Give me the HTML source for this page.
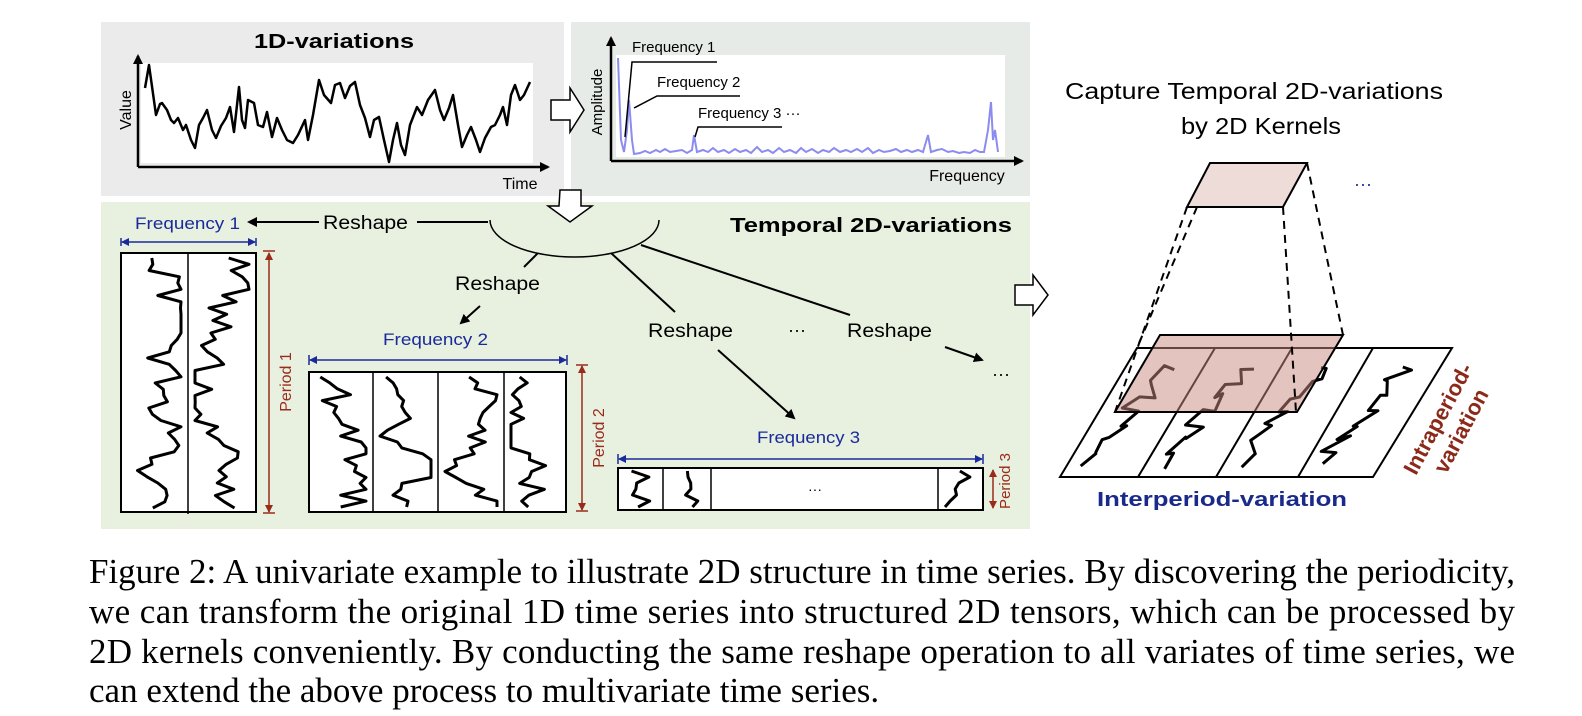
<!DOCTYPE html>
<html><head><meta charset="utf-8"><style>
html,body{margin:0;padding:0;background:#fff;}
svg{display:block}
.s{font-family:"Liberation Sans",sans-serif}
</style></head><body>
<svg id="sv" width="1582" height="716" viewBox="0 0 1582 716" xmlns="http://www.w3.org/2000/svg">
<defs>
<marker id="ah" markerWidth="10" markerHeight="10" refX="8" refY="5" orient="auto" markerUnits="userSpaceOnUse"><path d="M0,0 L10,5 L0,10 z" fill="#000"/></marker>
<marker id="ahb" markerWidth="8" markerHeight="8" refX="7" refY="4" orient="auto-start-reverse" markerUnits="userSpaceOnUse"><path d="M0,0 L8,4 L0,8 z" fill="#1a2a9a"/></marker>
<marker id="ahr" markerWidth="8" markerHeight="8" refX="7" refY="4" orient="auto-start-reverse" markerUnits="userSpaceOnUse"><path d="M0,0 L8,4 L0,8 z" fill="#9a2a1a"/></marker>
</defs>
<rect x="101" y="22" width="463" height="174" fill="#ebebeb"/>
<rect x="571" y="22" width="459" height="174" fill="#e7ebe7"/>
<rect x="101" y="202" width="929" height="327" fill="#e8f0df"/>

<rect x="141" y="63" width="392" height="100" fill="#fff"/>
<line x1="138" y1="167" x2="138" y2="56" stroke="#000" stroke-width="2.5" marker-end="url(#ah)"/>
<line x1="138" y1="167" x2="548" y2="167" stroke="#000" stroke-width="2.5" marker-end="url(#ah)"/>
<text x="254" y="48" class="s" font-size="20" font-weight="bold" textLength="160" lengthAdjust="spacingAndGlyphs">1D-variations</text>
<text transform="translate(131,110) rotate(-90)" text-anchor="middle" class="s" font-size="16">Value</text>
<text x="520" y="189" text-anchor="middle" class="s" font-size="16">Time</text>
<polyline fill="none" stroke="#000" stroke-width="2.5" stroke-linejoin="round" points="145,88 149,65 156,115 160,104 162,103 167,110 171,120 174,123 178,118 183,130 186,125 191,140 195,148 199,125 203,118 207,110 212,130 216,138 221,126 226,118 230,107 234,132 239,87 242,120 245,128 248,100 254,103 258,125 263,127 267,112 272,137 277,118 282,130 287,140 293,143 298,135 305,120 308,140 313,115 319,80 324,95 331,103 335,85 340,83 345,98 350,86 355,82 360,105 365,118 370,137 374,120 379,117 384,140 389,162 393,140 397,123 401,145 405,155 410,125 417,107 422,115 428,100 435,90 440,110 444,120 449,108 453,95 458,125 462,147 467,135 471,127 476,140 480,152 485,138 491,127 495,125 500,115 503,107 507,125 511,95 515,85 520,100 524,95 530,82"/>

<path d="M551,100 L570,100 L570,88 L584,110 L570,132 L570,120 L551,120 Z" fill="#fff" stroke="#000" stroke-width="1.5"/>

<rect x="616" y="55" width="389" height="102" fill="#fff"/>
<line x1="611" y1="161" x2="611" y2="38" stroke="#000" stroke-width="2.5" marker-end="url(#ah)"/>
<line x1="611" y1="161" x2="1022" y2="161" stroke="#000" stroke-width="2.5" marker-end="url(#ah)"/>
<text transform="translate(602,102) rotate(-90)" text-anchor="middle" class="s" font-size="15">Amplitude</text>
<text x="967" y="181" text-anchor="middle" class="s" font-size="16">Frequency</text>
<polyline fill="none" stroke="#8c8cf0" stroke-width="2" points="618,58 621,140 624,152 627,130 629,100 632,140 634,154 640,153 645,151 650,153 656,150 660,152 665,149 670,152 676,151 682,150 687,153 692,150 694,135 697,152 703,150 708,152 713,148 718,152 724,150 729,153 735,149 740,152 746,150 751,153 757,147 762,152 768,150 773,153 779,148 784,152 790,150 796,153 801,148 806,152 812,149 818,153 823,150 829,152 834,148 840,152 846,150 851,152 857,149 862,152 868,148 873,153 879,150 884,152 890,151 896,149 901,152 907,150 912,152 918,150 923,152 928,135 931,152 937,150 942,149 948,152 953,151 959,153 964,152 970,153 975,150 980,152 984,152 988,130 991,102 993,140 995,130 998,152"/>
<text x="632" y="52" class="s" font-size="15">Frequency 1</text>
<text x="657" y="87" class="s" font-size="15">Frequency 2</text>
<text x="698" y="118" class="s" font-size="15">Frequency 3 ···</text>
<polyline fill="none" stroke="#000" stroke-width="1.5" points="717,62 632,62 625,137"/>
<polyline fill="none" stroke="#000" stroke-width="1.5" points="740,96 657,96 634,108"/>
<polyline fill="none" stroke="#000" stroke-width="1.5" points="782,127 698,127 695,137"/>

<path d="M560,190 L581,190 L581,206 L592,206 L570,222 L548,206 L559,206 Z" fill="#fff" stroke="#000" stroke-width="1.5"/>
<path d="M490,220 A84.5 37 0 0 0 659 220" fill="none" stroke="#000" stroke-width="1.5"/>
<text x="730" y="232" class="s" font-size="20" font-weight="bold" textLength="282" lengthAdjust="spacingAndGlyphs">Temporal 2D-variations</text>

<line x1="488" y1="222" x2="417" y2="222" stroke="#000" stroke-width="2"/>
<text x="323" y="229" class="s" font-size="19" textLength="85" lengthAdjust="spacingAndGlyphs">Reshape</text>
<line x1="319" y1="222" x2="249" y2="222" stroke="#000" stroke-width="2" marker-end="url(#ah)"/>
<text x="135" y="229" class="s" font-size="17" fill="#1a2a9a" textLength="105" lengthAdjust="spacingAndGlyphs">Frequency 1</text>
<line x1="122" y1="242" x2="255" y2="242" stroke="#1a2a9a" stroke-width="1.5" marker-start="url(#ahb)" marker-end="url(#ahb)"/>
<line x1="121" y1="238" x2="121" y2="246" stroke="#1a2a9a" stroke-width="1.5"/><line x1="256" y1="238" x2="256" y2="246" stroke="#1a2a9a" stroke-width="1.5"/>
<rect x="121" y="253" width="135" height="259" fill="#fff" stroke="#000" stroke-width="2"/>
<line x1="188" y1="253" x2="188" y2="514" stroke="#000" stroke-width="1.5"/>
<line x1="269" y1="253" x2="269" y2="512" stroke="#9a2a1a" stroke-width="1.5" marker-start="url(#ahr)" marker-end="url(#ahr)"/>
<line x1="263" y1="251" x2="275" y2="251" stroke="#9a2a1a" stroke-width="1.5"/><line x1="263" y1="513" x2="275" y2="513" stroke="#9a2a1a" stroke-width="1.5"/>
<text transform="translate(291,382) rotate(-90)" text-anchor="middle" class="s" font-size="16" fill="#9a2a1a">Period 1</text>

<line x1="538" y1="253" x2="524" y2="267" stroke="#000" stroke-width="2"/>
<text x="455" y="290" class="s" font-size="19" textLength="85" lengthAdjust="spacingAndGlyphs">Reshape</text>
<line x1="480" y1="306" x2="461" y2="323" stroke="#000" stroke-width="2" marker-end="url(#ah)"/>
<text x="383" y="345" class="s" font-size="17" fill="#1a2a9a" textLength="105" lengthAdjust="spacingAndGlyphs">Frequency 2</text>
<line x1="310" y1="360" x2="566" y2="360" stroke="#1a2a9a" stroke-width="1.5" marker-start="url(#ahb)" marker-end="url(#ahb)"/>
<line x1="309" y1="355" x2="309" y2="365" stroke="#1a2a9a" stroke-width="1.5"/><line x1="567" y1="355" x2="567" y2="365" stroke="#1a2a9a" stroke-width="1.5"/>
<rect x="309" y="372" width="257" height="140" fill="#fff" stroke="#000" stroke-width="2"/>
<line x1="373" y1="372" x2="373" y2="512" stroke="#000" stroke-width="1.5"/>
<line x1="438" y1="372" x2="438" y2="512" stroke="#000" stroke-width="1.5"/>
<line x1="504" y1="372" x2="504" y2="512" stroke="#000" stroke-width="1.5"/>
<line x1="582" y1="366" x2="582" y2="510" stroke="#9a2a1a" stroke-width="1.5" marker-start="url(#ahr)" marker-end="url(#ahr)"/>
<line x1="576" y1="365" x2="588" y2="365" stroke="#9a2a1a" stroke-width="1.5"/><line x1="576" y1="511" x2="588" y2="511" stroke="#9a2a1a" stroke-width="1.5"/>
<text transform="translate(604,438) rotate(-90)" text-anchor="middle" class="s" font-size="16" fill="#9a2a1a">Period 2</text>

<line x1="611" y1="253" x2="675" y2="312" stroke="#000" stroke-width="2"/>
<text x="648" y="337" class="s" font-size="19" textLength="85" lengthAdjust="spacingAndGlyphs">Reshape</text>
<line x1="718" y1="350" x2="794" y2="418" stroke="#000" stroke-width="2" marker-end="url(#ah)"/>
<line x1="641" y1="245" x2="850" y2="315" stroke="#000" stroke-width="2"/>
<text x="797" y="336" text-anchor="middle" class="s" font-size="18">···</text>
<text x="847" y="337" class="s" font-size="19" textLength="85" lengthAdjust="spacingAndGlyphs">Reshape</text>
<line x1="945" y1="347" x2="982" y2="360" stroke="#000" stroke-width="2" marker-end="url(#ah)"/>
<text x="1001" y="380" text-anchor="middle" class="s" font-size="18">···</text>
<text x="757" y="443" class="s" font-size="17" fill="#1a2a9a" textLength="103" lengthAdjust="spacingAndGlyphs">Frequency 3</text>
<line x1="619" y1="459" x2="982" y2="459" stroke="#1a2a9a" stroke-width="1.5" marker-start="url(#ahb)" marker-end="url(#ahb)"/>
<line x1="618" y1="454" x2="618" y2="464" stroke="#1a2a9a" stroke-width="1.5"/><line x1="983" y1="454" x2="983" y2="464" stroke="#1a2a9a" stroke-width="1.5"/>
<rect x="618" y="468" width="365" height="42" fill="#fff" stroke="#000" stroke-width="2"/>
<line x1="663" y1="468" x2="663" y2="510" stroke="#000" stroke-width="1.5"/>
<line x1="711" y1="468" x2="711" y2="510" stroke="#000" stroke-width="1.5"/>
<line x1="938" y1="468" x2="938" y2="510" stroke="#000" stroke-width="1.5"/>
<text x="815" y="494" text-anchor="middle" class="s" font-size="14">···</text>
<line x1="993" y1="470" x2="993" y2="508" stroke="#9a2a1a" stroke-width="1.5" marker-start="url(#ahr)" marker-end="url(#ahr)"/>
<text transform="translate(1010,481) rotate(-90)" text-anchor="middle" class="s" font-size="15" fill="#9a2a1a">Period 3</text>

<path d="M1015,285 L1033,285 L1033,275 L1048,295 L1033,315 L1033,305 L1015,305 Z" fill="#fff" stroke="#000" stroke-width="1.5"/>

<text x="1065" y="99" class="s" font-size="23" textLength="378" lengthAdjust="spacingAndGlyphs">Capture Temporal 2D-variations</text>
<text x="1181" y="134" class="s" font-size="23" textLength="160" lengthAdjust="spacingAndGlyphs">by 2D Kernels</text>
<polygon points="1210,163 1307,163 1283,207 1187,207" fill="#eddcd8" stroke="#000" stroke-width="2"/>
<text x="1363" y="190" text-anchor="middle" class="s" font-size="18" fill="#1a2a9a">···</text>
<polygon points="1137,348 1452,348 1373,477 1060,477" fill="#fff" stroke="#000" stroke-width="2"/>
<line x1="1215" y1="348" x2="1138" y2="477" stroke="#000" stroke-width="2"/>
<line x1="1292" y1="348" x2="1216" y2="477" stroke="#000" stroke-width="2"/>
<line x1="1373" y1="348" x2="1298" y2="477" stroke="#000" stroke-width="2"/>
<g id="sq3d"></g>
<polygon points="1160,335 1343,335 1297,412 1115,412" fill="#c88a80" fill-opacity="0.5" stroke="#000" stroke-width="2"/>
<g stroke="#000" stroke-width="2" stroke-dasharray="8,6" fill="none">
<line x1="1187" y1="207" x2="1115" y2="412"/>
<line x1="1197" y1="207" x2="1137" y2="348"/>
<line x1="1283" y1="207" x2="1296" y2="412"/>
<line x1="1307" y1="163" x2="1343" y2="335"/>
</g>
<text x="1097" y="506" class="s" font-size="20" font-weight="bold" fill="#1a2a8a" textLength="250" lengthAdjust="spacingAndGlyphs">Interperiod-variation</text>
<g transform="translate(1450,425) rotate(-62)" fill="#8b2a1a" font-weight="bold" font-size="22" class="s" text-anchor="middle">
<text x="0" y="-6">Intraperiod-</text>
<text x="0" y="20">variation</text>
</g>
<g id="sq"></g>

<g font-family="'Liberation Serif',serif" font-size="35" fill="#000">
<text x="89" y="583" textLength="1426" lengthAdjust="spacing">Figure 2: A univariate example to illustrate 2D structure in time series. By discovering the periodicity,</text>
<text x="89" y="623" textLength="1426" lengthAdjust="spacing">we can transform the original 1D time series into structured 2D tensors, which can be processed by</text>
<text x="89" y="663" textLength="1426" lengthAdjust="spacing">2D kernels conveniently. By conducting the same reshape operation to all variates of time series, we</text>
<text x="89" y="702">can extend the above process to multivariate time series.</text>
</g>
</svg>
<script>
(function(){
var s=12345;function r(){s=(s*1103515245+12345)%2147483648;return s/2147483648;}
var NS="http://www.w3.org/2000/svg";
function pl(g,pts,w){var p=document.createElementNS(NS,"polyline");p.setAttribute("points",pts.map(function(a){return a[0].toFixed(1)+","+a[1].toFixed(1)}).join(" "));p.setAttribute("fill","none");p.setAttribute("stroke","#000");p.setAttribute("stroke-width",w||2.5);p.setAttribute("stroke-linejoin","round");g.appendChild(p);}
var g=document.getElementById("sq");
function vcol(x0,x1,y0,y1,n){var pts=[],cx=(x0+x1)/2,hw=(x1-x0)/2-7,x=cx;for(var i=0;i<=n;i++){var y=y0+(y1-y0)*i/n;x+= (r()*2-1)*hw*0.8 + (i%2?1:-1)*hw*0.35;if(x<cx-hw)x=cx-hw;if(x>cx+hw)x=cx+hw;pts.push([x,y]);}pl(g,pts,3);}
vcol(121,188,258,508,40);vcol(188,256,258,508,40);
vcol(309,373,377,507,22);vcol(373,438,377,507,22);vcol(438,504,377,507,22);vcol(504,566,377,507,22);
vcol(618,663,471,507,6);vcol(663,711,471,507,6);vcol(938,983,471,507,6);
var g2=document.getElementById("sq3d");
function hcell(tx,bx,ty,by){var pts=[];var n=14;for(var i=0;i<=n;i++){var t=i/n;var y=by-14-t*(by-ty-30)+(i%2?-6:6)*r();var left=bx+(tx-bx)*((by-y)/(by-ty));var x=left+15+t*30+(r()*2-1)*12;pts.push([x,y]);}pl(g2,pts,3);}
hcell(1137,1060,348,477);hcell(1215,1138,348,477);hcell(1292,1216,348,477);hcell(1373,1298,348,477);
})();
</script>
</body></html>
